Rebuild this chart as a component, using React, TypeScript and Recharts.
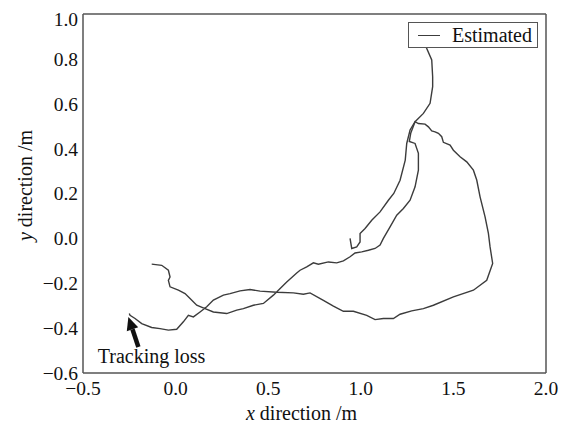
import {
  LineChart,
  Line,
  XAxis,
  YAxis,
  Legend,
  ReferenceLine,
  ReferenceDot,
} from "recharts";

type Pt = { x: number; y: number };

// estimated trajectory, first run: start -> inner right arm -> outer loop -> tracking loss
const outerTrack: [number, number][] = [
  [-0.129, -0.115], [-0.075, -0.12], [-0.039, -0.142], [-0.03, -0.172], [-0.039, -0.187],
  [-0.03, -0.216], [0.015, -0.231], [0.051, -0.246], [0.078, -0.268], [0.114, -0.298],
  [0.159, -0.313], [0.204, -0.328], [0.276, -0.335], [0.33, -0.32], [0.366, -0.313],
  [0.42, -0.298], [0.474, -0.29], [0.528, -0.253], [0.555, -0.231], [0.6, -0.194],
  [0.654, -0.154], [0.672, -0.142], [0.708, -0.127], [0.744, -0.109], [0.771, -0.115],
  [0.825, -0.105], [0.87, -0.109], [0.906, -0.1], [0.942, -0.082], [0.969, -0.065],
  [1.005, -0.06], [1.041, -0.053], [1.077, -0.045], [1.104, -0.03], [1.122, 0.0],
  [1.158, 0.051], [1.194, 0.103], [1.23, 0.133], [1.266, 0.17], [1.293, 0.23],
  [1.311, 0.304], [1.311, 0.379], [1.293, 0.423], [1.262, 0.432], [1.27, 0.47],
  [1.293, 0.52], [1.311, 0.512], [1.347, 0.509], [1.365, 0.497], [1.383, 0.479],
  [1.401, 0.475], [1.419, 0.468], [1.437, 0.453], [1.446, 0.428], [1.482, 0.416],
  [1.5, 0.393], [1.536, 0.364], [1.572, 0.341], [1.608, 0.304], [1.626, 0.26],
  [1.644, 0.185], [1.671, 0.096], [1.689, 0.022], [1.698, -0.038], [1.712, -0.112],
  [1.68, -0.187], [1.608, -0.231], [1.5, -0.261], [1.392, -0.298], [1.338, -0.313],
  [1.275, -0.323], [1.212, -0.338], [1.176, -0.357], [1.122, -0.357], [1.077, -0.362],
  [1.032, -0.343], [0.96, -0.325], [0.906, -0.325], [0.852, -0.302], [0.798, -0.276],
  [0.726, -0.243], [0.69, -0.249], [0.636, -0.243], [0.546, -0.24], [0.456, -0.235],
  [0.402, -0.228], [0.348, -0.234], [0.294, -0.246], [0.258, -0.253], [0.204, -0.275],
  [0.168, -0.305], [0.132, -0.328], [0.096, -0.35], [0.069, -0.343], [0.042, -0.372],
  [0.006, -0.405], [-0.039, -0.409], [-0.084, -0.402], [-0.129, -0.397], [-0.183, -0.38],
  [-0.219, -0.357], [-0.246, -0.343], [-0.25, -0.335],
];

// second run: from the top, down the inner left arm to the hook
const innerTrack: [number, number][] = [
  [1.35, 0.88], [1.355, 0.848], [1.383, 0.795], [1.388, 0.72], [1.388, 0.676],
  [1.374, 0.602], [1.338, 0.557], [1.293, 0.52], [1.266, 0.483], [1.248, 0.423],
  [1.24, 0.349], [1.212, 0.259], [1.178, 0.2], [1.149, 0.17], [1.104, 0.118],
  [1.059, 0.081], [1.023, 0.044], [0.996, 0.022], [0.996, -0.016], [0.978, -0.038],
  [0.951, -0.045], [0.942, 0.0],
];

const xTicks = [-0.5, 0.0, 0.5, 1.0, 1.5, 2.0];
const yTicks = [-0.6, -0.4, -0.2, 0.0, 0.2, 0.4, 0.6, 0.8, 1.0];

// annotation: arrow tail -> tip, and where the caption sits
const lossArrow: Pt[] = [
  { x: -0.201, y: -0.484 },
  { x: -0.255, y: -0.35 },
];
const lossCaption = { x: -0.13, y: -0.557, text: "Tracking loss" };

const toPts = (arr: [number, number][]): Pt[] => arr.map(([x, y]) => ({ x, y }));

const LINE = "#3c3c3c";
const FRAME = "#555555";
const FONT =
  "'Times New Roman', 'Liberation Serif', Tinos, 'Nimbus Roman', FreeSerif, 'DejaVu Serif', serif";

const fmt = (v: number) => (v < 0 ? "\u2212" + Math.abs(v).toFixed(1) : v.toFixed(1));

function Arrow(props: any) {
  const { x1, y1, x2, y2 } = props;
  const dx = x2 - x1;
  const dy = y2 - y1;
  const len = Math.hypot(dx, dy) || 1;
  const ux = dx / len;
  const uy = dy / len;
  const headLen = 13;
  const headW = 6;
  const bx = x2 - ux * headLen;
  const by = y2 - uy * headLen;
  return (
    <g>
      <line x1={x1} y1={y1} x2={bx} y2={by} stroke="#111" strokeWidth={4.5} />
      <polygon
        points={`${x2},${y2} ${bx - uy * headW},${by + ux * headW} ${bx + uy * headW},${by - ux * headW}`}
        fill="#111"
      />
    </g>
  );
}

function Caption(props: any) {
  const { cx, cy } = props;
  return (
    <text x={cx} y={cy} textAnchor="middle" fontSize={20} fill="#111" fontFamily={FONT}>
      {lossCaption.text}
    </text>
  );
}

function XTitle(props: any) {
  const { viewBox } = props;
  const cx = viewBox.x + viewBox.width / 2 - 13;
  return (
    <text x={cx} y={412} textAnchor="middle" fontSize={20} fill="#111" fontFamily={FONT}>
      <tspan fontStyle="italic">x</tspan>
      <tspan> direction /m</tspan>
    </text>
  );
}

function YTitle(props: any) {
  const { viewBox } = props;
  const cy = viewBox.y + viewBox.height / 2 - 8;
  return (
    <text
      x={17}
      y={cy}
      dy="0.35em"
      textAnchor="middle"
      fontSize={20}
      fill="#111"
      fontFamily={FONT}
      transform={`rotate(-90 17 ${cy})`}
    >
      <tspan fontStyle="italic">y</tspan>
      <tspan> direction /m</tspan>
    </text>
  );
}

function LegendBox() {
  return (
    <div
      style={{
        boxSizing: "border-box",
        width: 130,
        height: 26,
        border: `1px solid ${FRAME}`,
        background: "#fff",
        position: "relative",
        fontFamily: FONT,
        fontSize: 20,
        color: "#111",
      }}
    >
      <div
        style={{
          position: "absolute",
          left: 9,
          top: 12,
          width: 22,
          height: 0,
          borderTop: `1.5px solid ${LINE}`,
        }}
      />
      <span style={{ position: "absolute", left: 43, top: 0, lineHeight: "24px" }}>Estimated</span>
    </div>
  );
}

export default function App() {
  const axisTick = { fontSize: 19.5, fill: "#111", fontFamily: FONT };
  return (
    <div style={{ width: 560, height: 420, fontFamily: FONT }}>
      <LineChart width={560} height={420} margin={{ top: 6, right: 22, bottom: 0, left: 0 }}>
        <XAxis
          xAxisId="main"
          dataKey="x"
          type="number"
          domain={[-0.5, 2.0]}
          ticks={xTicks}
          tickFormatter={fmt}
          tick={axisTick}
          tickLine={false}
          tickSize={0}
          tickMargin={8}
          height={55}
          axisLine={{ stroke: FRAME, strokeWidth: 1.5 }}
          allowDataOverflow
          label={<XTitle />}
        />
        <XAxis
          xAxisId="bottomIn"
          type="number"
          domain={[-0.5, 2.0]}
          ticks={xTicks}
          orientation="bottom"
          mirror
          tick={false}
          axisLine={false}
          tickSize={5}
          tickLine={{ stroke: FRAME }}
        />
        <XAxis
          xAxisId="top"
          type="number"
          domain={[-0.5, 2.0]}
          ticks={xTicks}
          orientation="top"
          mirror
          tick={false}
          tickSize={5}
          tickLine={{ stroke: FRAME }}
          axisLine={{ stroke: FRAME, strokeWidth: 1.5 }}
        />
        <YAxis
          yAxisId="main"
          dataKey="y"
          type="number"
          domain={[-0.6, 1.0]}
          ticks={yTicks}
          tickFormatter={fmt}
          tick={axisTick}
          tickLine={false}
          tickSize={0}
          tickMargin={5}
          width={75}
          axisLine={{ stroke: FRAME, strokeWidth: 1.5 }}
          allowDataOverflow
          label={<YTitle />}
        />
        <YAxis
          yAxisId="leftIn"
          type="number"
          domain={[-0.6, 1.0]}
          ticks={yTicks}
          orientation="left"
          mirror
          tick={false}
          axisLine={false}
          tickSize={5}
          tickLine={{ stroke: FRAME }}
        />
        <YAxis
          yAxisId="right"
          type="number"
          domain={[-0.6, 1.0]}
          ticks={yTicks}
          orientation="right"
          mirror
          tick={false}
          tickSize={5}
          tickLine={{ stroke: FRAME }}
          axisLine={{ stroke: FRAME, strokeWidth: 1.5 }}
        />
        <Line
          xAxisId="main"
          yAxisId="main"
          data={toPts(outerTrack)}
          dataKey="y"
          name="Estimated"
          stroke={LINE}
          strokeWidth={1.4}
          dot={false}
          isAnimationActive={false}
        />
        <Line
          xAxisId="main"
          yAxisId="main"
          data={toPts(innerTrack)}
          dataKey="y"
          legendType="none"
          stroke={LINE}
          strokeWidth={1.4}
          dot={false}
          isAnimationActive={false}
        />
        <ReferenceLine
          xAxisId="main"
          yAxisId="main"
          segment={lossArrow}
          shape={<Arrow />}
        />
        <ReferenceDot
          xAxisId="main"
          yAxisId="main"
          x={lossCaption.x}
          y={lossCaption.y}
          r={0}
          shape={<Caption />}
        />
        <Legend
          layout="vertical"
          align="center"
          verticalAlign="middle"
          content={<LegendBox />}
          wrapperStyle={{ left: 400, top: 14, width: 130, height: 26 }}
        />
      </LineChart>
    </div>
  );
}
